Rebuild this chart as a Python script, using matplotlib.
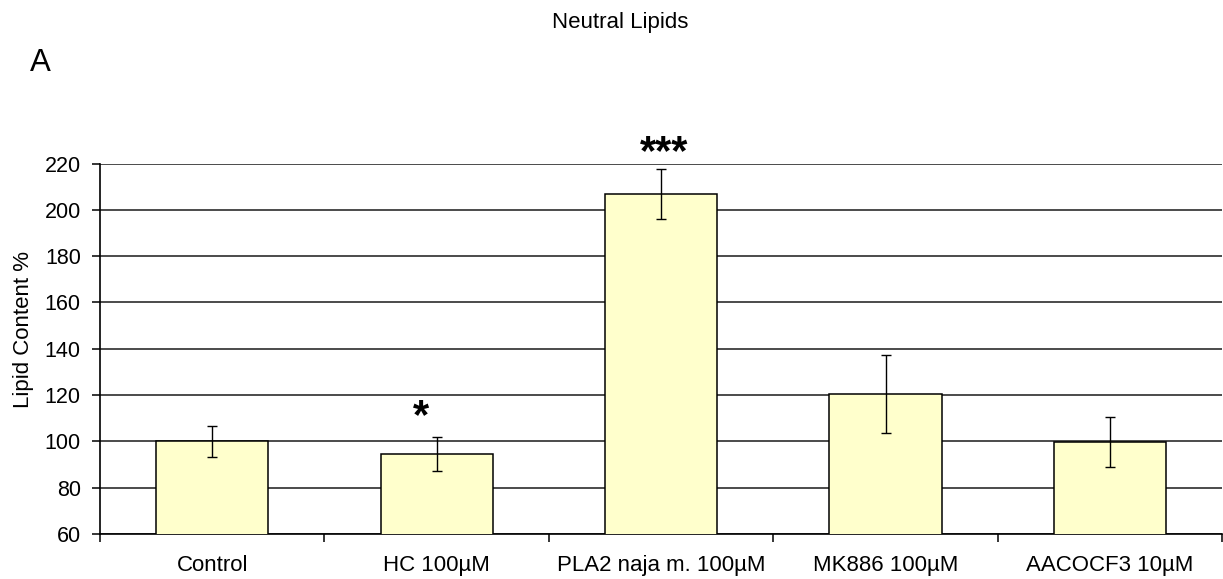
import matplotlib
matplotlib.use("Agg")
import matplotlib.pyplot as plt
import numpy as np

plt.rcParams['font.family'] = ['Liberation Sans', 'DejaVu Sans']

categories = ["Control", "HC 100µM", "PLA2 naja m. 100µM", "MK886 100µM", "AACOCF3 10µM"]
values = [100.0, 94.6, 206.9, 120.5, 99.6]
errors = [6.7, 7.5, 10.8, 17.0, 10.8]
significance = ["", "*", "***", "", ""]

fig = plt.figure(figsize=(12.23, 5.79), dpi=100)
ax = fig.add_axes([0.0818, 0.0777, 0.9175, 0.6399])

x = np.arange(len(categories))
ax.bar(x, values, width=0.5, bottom=0, color="#FFFFCC", edgecolor="black",
       linewidth=1.1, zorder=3)
ax.errorbar(x, values, yerr=errors, fmt="none", ecolor="black", elinewidth=1.0,
            capsize=3.6, capthick=1.0, zorder=4)

ax.set_xlim(-0.5, len(categories) - 0.5)
ax.set_ylim(60, 220)
ax.set_yticks(np.arange(60, 221, 20))
ax.yaxis.grid(True, color="#1a1a1a", linewidth=1.1, zorder=0)
ax.set_axisbelow(True)

ax.set_xticks(x)
ax.set_xticklabels(categories, fontsize=16)
ax.tick_params(axis="x", which="major", length=0, pad=15)
ax.set_xticks(np.arange(-0.5, len(categories), 1.0), minor=True)
ax.tick_params(axis="x", which="minor", length=5.8, width=1.1, direction="out")
ax.tick_params(axis="y", labelsize=15.5, length=5.8, width=1.1, direction="out", pad=8)

for side in ("top", "right"):
    ax.spines[side].set_visible(False)
for side in ("left", "bottom"):
    ax.spines[side].set_linewidth(1.2)

ax.set_ylabel("Lipid Content %", fontsize=16)
ax.yaxis.set_label_coords(-0.0588, 0.551)

# significance markers just above the error bars (offsets in pixels)
star_offsets = {1: (-15.5, 8), 2: (3, 5)}
for i, (xi, v, e, s) in enumerate(zip(x, values, errors, significance)):
    if s:
        dx, dy = star_offsets.get(i, (0, 3))
        ax.annotate(s, xy=(xi, v + e), xytext=(dx, dy), textcoords="offset pixels",
                    ha="center", va="baseline", fontsize=30, fontweight="bold",
                    annotation_clip=False)

fig.text(0.507, 0.9511, "Neutral Lipids", ha="center", va="baseline", fontsize=16)
fig.text(0.0242, 0.8774, "A", ha="left", va="baseline", fontsize=22.5)

fig.savefig("out.png", dpi=100)
